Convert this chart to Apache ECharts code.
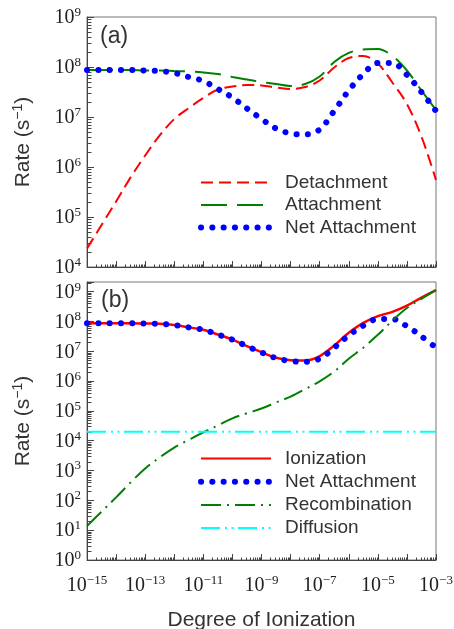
<!DOCTYPE html>
<html>
<head>
<meta charset="utf-8">
<title>Rates vs degree of ionization</title>
<script src="https://cdn.jsdelivr.net/npm/echarts@6/dist/echarts.min.js"></script>
<style>
  html, body { margin: 0; padding: 0; background: #fff; }
  #main { width: 454px; height: 629px; }
</style>
</head>
<body>
<div id="main"></div>
<script>
// degree of ionization, half-decade steps from 1e-15 to 1e-3
var degree = [1e-15, 3.16e-15, 1e-14, 3.16e-14, 1e-13, 3.16e-13, 1e-12, 3.16e-12,
  1e-11, 3.16e-11, 1e-10, 3.16e-10, 1e-9, 3.16e-9, 1e-8, 3.16e-8, 1e-7, 3.16e-7,
  1e-6, 3.16e-6, 1e-5, 3.16e-5, 1e-4, 3.16e-4, 1e-3];

// panel (a) rates, s^-1
var detachment = [2.34e4, 6.9e4, 2.04e5, 6.2e5, 1.70e6, 4.27e6, 9.1e6, 1.51e7,
  2.40e7, 3.55e7, 4.07e7, 4.37e7, 4.27e7, 3.89e7, 3.63e7, 3.98e7, 5.37e7, 9.77e7,
  1.51e8, 1.66e8, 1.17e8, 4.9e7, 1.82e7, 4.07e6, 5.5e5];
var attachment = [8.71e7, 8.71e7, 8.71e7, 8.71e7, 8.51e7, 8.51e7, 8.32e7, 8.13e7,
  7.76e7, 7.24e7, 6.31e7, 5.62e7, 5.01e7, 4.57e7, 4.17e7, 4.57e7, 6.46e7, 1.26e8,
  1.91e8, 2.24e8, 2.29e8, 1.66e8, 8.51e7, 3.39e7, 1.38e7];
var netAttachment = [8.71e7, 8.71e7, 8.71e7, 8.71e7, 8.51e7, 8.32e7, 7.59e7, 6.31e7,
  5.25e7, 3.63e7, 2.45e7, 1.48e7, 9.12e6, 5.89e6, 4.68e6, 4.47e6, 5.62e6, 1.32e7,
  3.39e7, 7.24e7, 1.20e8, 1.20e8, 6.92e7, 3.16e7, 1.32e7];

// panel (b) rates, s^-1
var ionization = [8.91e7, 8.71e7, 8.71e7, 8.71e7, 8.51e7, 8.32e7, 7.59e7, 6.31e7,
  5.25e7, 3.63e7, 2.45e7, 1.48e7, 9.33e6, 6.03e6, 5.01e6, 4.90e6, 6.92e6, 1.55e7,
  4.17e7, 8.91e7, 1.51e8, 2.09e8, 3.39e8, 6.31e8, 1.12e9];
var recombination = [13.8, 41.7, 126, 398, 1170, 2750, 5890, 1.07e4,
  1.91e4, 3.24e4, 5.62e4, 8.32e4, 1.20e5, 1.91e5, 3.02e5, 5.37e5, 9.77e5, 2.09e6,
  5.62e6, 1.32e7, 3.55e7, 1.07e8, 2.82e8, 5.75e8, 1.12e9];
var diffusionDegree = [1e-15, 1e-3];
var diffusion = [2e4, 2e4];

// axis ranges (decade exponents)
var xDecades = [-15, -3];
var yDecadesA = [4, 9];
var yDecadesB = [0, 9];
var yMaxB = 2.1e9;

function pairs(xs, ys) {
  return xs.map(function (x, i) { return [x, ys[i]]; });
}

// 2..9 minor ticks of each decade
function minorTicks(d0, d1, max) {
  var out = [];
  for (var d = d0; d < d1 + 1; d++) {
    for (var m = 2; m <= 9; m++) {
      var v = m * Math.pow(10, d);
      if (v < max) out.push(v);
    }
  }
  return out;
}

function powLabel(v, oddOnly) {
  var e = Math.log10(v);
  var r = Math.round(e);
  if (Math.abs(e - r) > 1e-6) return '';
  if (oddOnly && r % 2 === 0) return '';
  return '{b|10}{s|' + (r < 0 ? '\u2212' + (-r) : r) + '}';
}

var labelRich = {
  b: { fontFamily: 'Liberation Serif', fontSize: 20, lineHeight: 22, color: '#222', verticalAlign: 'bottom' },
  s: { fontFamily: 'Liberation Serif', fontSize: 13, lineHeight: 14, color: '#222', verticalAlign: 'top' }
};
var nameRich = {
  s: { fontFamily: 'Liberation Sans', fontSize: 14, lineHeight: 14, color: '#333', verticalAlign: 'top' }
};

function xAxis(grid, showLabels) {
  return {
    type: 'log', gridIndex: grid,
    min: Math.pow(10, xDecades[0]), max: Math.pow(10, xDecades[1]), interval: 1,
    axisLine: { lineStyle: { color: '#444', width: 1 } },
    axisTick: { inside: true, length: 6, lineStyle: { color: '#444' } },
    axisLabel: {
      show: showLabels, margin: 14,
      formatter: function (v) { return powLabel(v, true); },
      rich: labelRich
    },
    splitLine: { show: false },
    name: showLabels ? 'Degree of Ionization' : '',
    nameLocation: 'middle', nameGap: 50, nameMoveOverlap: false,
    nameTextStyle: { fontFamily: 'Liberation Sans', fontSize: 21, color: '#333' }
  };
}

function yAxis(grid, min, max) {
  return {
    type: 'log', gridIndex: grid, min: min, max: max, interval: 1,
    axisLine: { lineStyle: { color: '#444', width: 1 } },
    axisTick: { inside: true, length: 7, lineStyle: { color: '#444' } },
    axisLabel: {
      margin: 6,
      formatter: function (v) { return powLabel(v, false); },
      rich: labelRich
    },
    splitLine: { show: false },
    name: 'Rate (s{s|\u22121})',
    nameLocation: 'middle', nameRotate: 90, nameGap: 52, nameMoveOverlap: false,
    nameTextStyle: { fontFamily: 'Liberation Sans', fontSize: 21, lineHeight: 24, color: '#333', rich: nameRich }
  };
}

function curve(name, grid, xs, ys, color, width, dash, extra) {
  var s = {
    name: name, type: 'line', xAxisIndex: grid, yAxisIndex: grid,
    data: pairs(xs, ys), symbol: 'none', smooth: 0.35,
    lineStyle: { color: color, width: width, type: dash },
    itemStyle: { color: color }
  };
  if (extra) {
    for (var k in extra) s[k] = extra[k];
  }
  return s;
}

var dotDash = [0.1, 11.2];

function dotted(name, grid) {
  var s = curve(name, grid, degree, netAttachment, '#0000ff', 6, dotDash);
  s.lineStyle.cap = 'round';
  s.clip = false;
  return s;
}

function tickSeries(grid, values, horizontal, bottomValue) {
  return {
    type: 'custom', xAxisIndex: grid, yAxisIndex: grid, silent: true, clip: false, z: 3,
    data: values.map(function (v) { return horizontal ? [v, bottomValue] : [bottomValue, v]; }),
    renderItem: function (params, api) {
      var p = api.coord([api.value(0), api.value(1)]);
      var x = Math.round(p[0]) + 0.5, y = Math.round(p[1]) + 0.5;
      var shape = horizontal ? { x1: x, y1: y, x2: x, y2: y - 3 } : { x1: x, y1: y, x2: x + 4, y2: y };
      return { type: 'line', shape: shape, style: { stroke: '#444', lineWidth: 1 } };
    }
  };
}

var legendText = { fontFamily: 'Liberation Sans', fontSize: 19, color: '#333', padding: [0, 0, 0, 9] };
var dotLegend = {
  name: 'Net Attachment',
  lineStyle: { cap: 'round', width: 6, type: dotDash, color: '#0000ff' }
};

var chart = echarts.init(document.getElementById('main'), null, { renderer: 'canvas' });
chart.setOption({
  animation: false,
  backgroundColor: '#fff',
  grid: [
    { left: 87, top: 17, width: 349, height: 250, show: true, borderColor: '#777', borderWidth: 1, backgroundColor: 'transparent', outerBoundsMode: 'none' },
    { left: 87, top: 282, width: 349, height: 278, show: true, borderColor: '#777', borderWidth: 1, backgroundColor: 'transparent', outerBoundsMode: 'none' }
  ],
  xAxis: [xAxis(0, false), xAxis(1, true)],
  yAxis: [
    yAxis(0, Math.pow(10, yDecadesA[0]), Math.pow(10, yDecadesA[1])),
    yAxis(1, Math.pow(10, yDecadesB[0]), yMaxB)
  ],
  legend: [
    {
      data: ['Detachment', 'Attachment', dotLegend],
      orient: 'vertical', left: 193, top: 168, itemWidth: 70, itemHeight: 20, itemGap: 3.5,
      selectedMode: false, itemStyle: { opacity: 0 }, textStyle: legendText
    },
    {
      data: ['Ionization', dotLegend, 'Recombination', 'Diffusion'],
      orient: 'vertical', left: 193, top: 444, itemWidth: 70, itemHeight: 20, itemGap: 4.2,
      selectedMode: false, itemStyle: { opacity: 0 }, textStyle: legendText
    }
  ],
  graphic: [
    { type: 'text', left: 100, top: 25, style: { text: '(a)', font: '23px "Liberation Sans"', fill: '#333' } },
    { type: 'text', left: 101, top: 289, style: { text: '(b)', font: '23px "Liberation Sans"', fill: '#333' } }
  ],
  series: [
    curve('Detachment', 0, degree, detachment, '#ff0000', 2, [12, 6]),
    curve('Attachment', 0, degree, attachment, '#008000', 2, [26, 10]),
    dotted('Net Attachment', 0),
    curve('Ionization', 1, degree, ionization, '#ff0000', 2.5, 'solid'),
    dotted('Net Attachment', 1),
    curve('Recombination', 1, degree, recombination, '#008000', 2, [20, 6, 2, 6]),
    curve('Diffusion', 1, diffusionDegree, diffusion, '#00ffff', 2, [19, 5, 2, 4.5, 2, 4.5], { smooth: false }),
    tickSeries(0, minorTicks(xDecades[0], xDecades[1] - 1, 1), true, Math.pow(10, yDecadesA[0])),
    tickSeries(0, minorTicks(yDecadesA[0], yDecadesA[1] - 1, 1e10), false, Math.pow(10, xDecades[0])),
    tickSeries(1, minorTicks(xDecades[0], xDecades[1] - 1, 1), true, Math.pow(10, yDecadesB[0])),
    tickSeries(1, minorTicks(yDecadesB[0], yDecadesB[1], yMaxB), false, Math.pow(10, xDecades[0]))
  ]
});
</script>
</body>
</html>
